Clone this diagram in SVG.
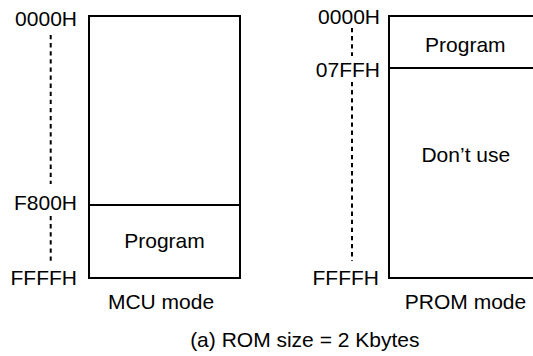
<svg xmlns="http://www.w3.org/2000/svg" width="533" height="356" viewBox="0 0 533 356">
<style>
text{font-family:"Liberation Sans",Arial,sans-serif;font-size:21px;fill:#000}
.e{text-anchor:end}
.m{text-anchor:middle}
.box{fill:none;stroke:#000;stroke-width:2}
.div{stroke:#000;stroke-width:1.8}
.dot{stroke:#000;stroke-width:2;stroke-dasharray:4.3 3.8;fill:none}
</style>
<rect width="533" height="356" fill="#fff"/>
<g id="mcu">
<rect class="box" x="89" y="16" width="151" height="262"/>
<line class="div" x1="89" y1="205" x2="240" y2="205"/>
<text class="m" x="164.5" y="247.5">Program</text>
<text class="m" x="161" y="308.5">MCU mode</text>
</g>
<g id="mcu-addr">
<text class="e" x="77" y="26">0000H</text>
<text class="e" x="77" y="209.5">F800H</text>
<text class="e" x="77" y="284.5">FFFFH</text>
</g>
<g id="prom">
<rect class="box" x="389" y="16" width="151" height="262"/>
<line class="div" x1="389" y1="68" x2="540" y2="68"/>
<text class="m" x="465.3" y="51.7">Program</text>
<text class="m" x="465.8" y="161.7">Don’t use</text>
<text class="m" x="465.5" y="308.5">PROM mode</text>
</g>
<g id="prom-addr">
<text class="e" x="380" y="24">0000H</text>
<text class="e" x="380" y="76.7">07FFH</text>
<text class="e" x="379" y="284.5">FFFFH</text>
</g>
<g id="connectors">
<line class="dot" x1="50.7" y1="35" x2="50.7" y2="184"/>
<line class="dot" x1="50.7" y1="216" x2="50.7" y2="261"/>
<line class="dot" x1="352" y1="28" x2="352" y2="56"/>
<line class="dot" x1="352" y1="82" x2="352" y2="261"/>
</g>
<text class="m" x="304.8" y="347.3">(a) ROM size = 2 Kbytes</text>
</svg>
